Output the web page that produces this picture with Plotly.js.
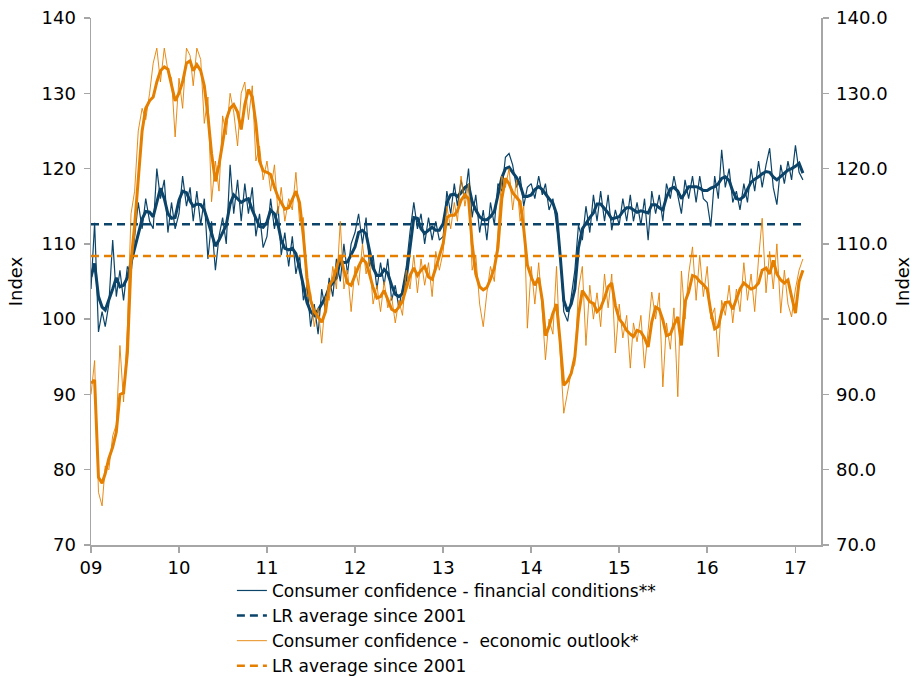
<!DOCTYPE html>
<html>
<head>
<meta charset="utf-8">
<script src="https://cdn.plot.ly/plotly-3.0.1.min.js"></script>
<style>html,body{margin:0;padding:0;background:#fff;}#chart{width:919px;height:677px;}</style>
</head>
<body>
<div id="chart"></div>
<script>
// Semi-monthly observations (1st and 16th of each month), Jan 2009 - Feb 2017
const years = [2009, 2010, 2011, 2012, 2013, 2014, 2015, 2016];
const lastYear = 2017;
const lastYearMonths = ["01-01", "01-16", "02-01"];
const yearTicks = ["2009-01-01","2010-01-01","2011-01-01","2012-01-01","2013-01-01","2014-01-01","2015-01-01","2016-01-01","2017-01-01"];
const yearLabels = ["09","10","11","12","13","14","15","16","17"];

// Consumer confidence - financial conditions (weekly, thin)
const financialWeekly = [
  104, 112.8, 98.3, 101, 99, 102, 110.5, 103, 106.5, 102.5, 107, 106, 111, 115.5, 112, 116, 113, 112, 120, 116, 118.5, 111.5, 115.5, 112,
  114, 119, 115, 117.5, 113, 117, 112.5, 116, 108, 113, 106.5, 111, 113.5, 110, 120.5, 114, 118.5, 113, 118, 114, 117.5, 111, 114, 109.5,
  111, 116, 112, 115, 108.5, 111.5, 107, 111, 106, 108.5, 102.5, 104.5, 99, 102, 98, 104, 101, 105.5, 103, 108, 105, 110, 106, 110,
  111.5, 114, 110, 113.5, 107, 108.5, 104, 107.5, 104.5, 108, 102.5, 104.5, 101.5, 104, 107, 111.5, 115.5, 112, 114, 110, 113.5, 110.5, 113, 110.5,
  111, 117, 114, 118, 115, 118.5, 116, 120, 113.5, 116.5, 111.5, 114.5, 110.5, 115.5, 112.5, 118, 117, 121.5, 122, 120.5, 117.5, 119, 115, 117.5,
  118, 116, 119, 116.5, 118, 114.5, 116, 112.5, 109, 101, 99.7, 103, 106.5, 112.5, 110.5, 115, 111.5, 116.5, 113, 117, 113, 116.5, 111.8, 114.5,
  112.5, 116, 113, 116.5, 113, 115.5, 112.5, 116, 110.5, 117, 114, 116.5, 113, 118, 116, 119, 116.5, 114, 118.5, 116, 119, 115.5, 119, 116,
  115.5, 112.3, 119, 116, 122.5, 117.5, 120, 115.5, 117, 114.5, 118, 115.5, 120, 117, 121, 117.5, 120.5, 122.7, 117.5, 115.2, 120.5, 118, 121, 118.5,
  123.1, 119.5, 118.5
];
// Smoothed (thick)
const financialSmooth = [
  105.6, 107.4, 103, 101.6, 101.2, 102.5, 104, 105.5, 104.3, 104.5, 105.5, 107.5, 109.5, 111.5, 113.3, 114.3, 114.2, 113.6, 115.5, 117.4, 116, 114, 113.4, 113.5,
  115.8, 117, 116.8, 115.7, 115, 115.3, 115.2, 114.5, 113, 111.3, 109.7, 110.5, 111.4, 112.5, 115.3, 116.5, 116, 115.5, 115.8, 116, 114.5, 113.5, 112.3, 112.2,
  112.9, 114.5, 114, 112.5, 110.5, 109.4, 109.2, 109.4, 108.7, 106.8, 104.5, 102.2, 101, 100.5, 101.2, 102, 102.9, 104.2, 104.8, 105.5, 107.8, 107.5, 107.6, 108.5,
  109.6, 111.5, 111.8, 111.3, 109, 106.8, 105.8, 105.8, 106.6, 106.1, 104.5, 103.3, 103, 103.4, 105.6, 109.5, 113.5, 113.4, 112, 111.4, 111.8, 112.2, 111.8, 111.8,
  112.7, 115.5, 116.5, 116.6, 116.3, 116.8, 117.5, 117.8, 115.6, 114.5, 113.6, 113.2, 113.2, 113.6, 114.3, 116.3, 118.8, 120, 120.2, 119.5, 118.8, 117.8, 116.3, 116.3,
  116.5, 117.2, 117.6, 117.2, 116.6, 116, 115.4, 114, 108.5, 102.5, 101, 102, 104, 109.5, 112, 112.8, 113.5, 114.1, 115.3, 115.3, 114.7, 114.1, 113.3, 113.4,
  113.6, 114.3, 114.8, 114.8, 114.5, 114.2, 114.4, 114.3, 114.1, 115.2, 115.2, 114.8, 114.5, 116.2, 117.3, 117.5, 117, 116, 116.8, 117.6, 117.6, 117.6, 117.4, 117.1,
  117.1, 117.4, 117.6, 118, 118.7, 118.9, 118.4, 117, 116, 115.9, 116.3, 117.3, 118.2, 118.6, 118.9, 119.3, 119.6, 119.5, 118.9, 118.5, 119, 119.4, 119.8, 120,
  120.3, 120.7, 119.4
];
// Consumer confidence - economic outlook (weekly, thin)
const outlookWeekly = [
  90, 94.5, 77, 75.2, 80.5, 80, 84.5, 86, 96.5, 89, 99, 114, 117, 125, 128, 126.5, 130, 134, 136, 131.5, 136, 133, 132, 124.2,
  132, 128, 136, 135, 131, 136, 134.5, 126, 129.5, 115.6, 121, 117, 127, 124.5, 130, 127.5, 123, 130, 131.5, 126.5, 131, 121, 123, 118.5,
  121, 117, 120.5, 114, 117.5, 113, 116, 114.5, 119.5, 113, 113.5, 103, 103.5, 99, 101.5, 96.8, 103, 102.5, 107, 104, 113, 104, 106.5, 101,
  107, 104.5, 110, 106, 108, 102, 104.5, 101, 105, 101.5, 103, 99.5, 102.5, 100.5, 106.5, 104, 108.5, 103.5, 108, 104.5, 107.5, 103, 109, 106.5,
  109, 115, 112, 115.5, 113, 119, 115, 118, 106.5, 108.5, 102, 99, 103.5, 107, 105, 112, 119, 117.5, 120, 114.5, 118.5, 113, 115, 98.8,
  107, 102, 107.5, 101, 94.6, 100, 98, 107, 95.5, 87.5, 90.5, 93, 94, 104, 107, 96.5, 104.5, 100, 103.5, 99, 106, 101.5, 106, 95.5,
  102, 97.5, 100.5, 93.5, 99.5, 97, 100.5, 93.5, 98.5, 103.6, 100, 103.5, 91, 99.5, 96, 101.5, 89.7, 106.4, 100, 106, 109.6, 102.5, 108.5, 103,
  107, 100, 101.5, 95, 102.5, 100.5, 104.5, 99.5, 104, 101, 107.5, 102.5, 106, 101, 108, 113.4, 103.5, 109, 104, 110, 100.8, 106.5, 102, 100.3,
  104, 106.5, 108
];
// Smoothed (thick)
const outlookSmooth = [
  91.5, 91.9, 79, 78.2, 79.5, 81.5, 83, 85, 90, 90.2, 95.5, 107.5, 112.5, 118.5, 125, 128, 129, 129.5, 131.5, 133, 133.5, 133.2, 131, 129,
  130, 131.5, 134, 134.3, 133, 133.8, 133, 131, 127, 122, 118.3, 120.5, 123.4, 126.5, 128, 128.5, 127.5, 125.2, 128.5, 130.5, 129.5, 126, 121, 119.7,
  119.5, 119.2, 117.5, 116.2, 115.5, 114.6, 114.8, 115.8, 117, 115.5, 111, 105.5, 102.5, 101, 100.3, 99.6, 101, 104.5, 105.2, 106.7, 108.5, 106.5, 104.8, 104.5,
  105.8, 107, 108, 107.5, 106, 104.2, 102.8, 103, 103.8, 102.5, 101.3, 101, 101.6, 102.4, 104, 105.8, 106.8, 105.8, 106.5, 107, 105.6, 105.3, 106.8, 108.3,
  110.1, 113.5, 113.8, 113.8, 114.4, 115.8, 116.5, 116, 110, 106, 104.3, 103.9, 104.2, 105.3, 106.8, 109.5, 116, 118.7, 118, 116.8, 116.2, 115.6, 112, 107.2,
  105.6, 104.5, 105.5, 102.5, 97.8, 99, 100.8, 102, 97, 91.2, 91.8, 92.8, 95, 100.5, 103.8, 103, 102.3, 102.1, 101, 101.5, 102.8, 104.3, 104.8, 101.8,
  100, 99.4, 98.5, 98, 97.7, 98.5, 98.3, 97.5, 96.3, 99.6, 101.6, 101.3, 99.9, 97.8, 98, 99.2, 100.3, 96.5, 102.3, 103.6, 105.8, 105.6, 105, 104.6,
  104, 101, 98.7, 99, 101, 102.2, 102.3, 101.3, 102.8, 104, 104.8, 104.4, 104, 104.2, 104.8, 106.5, 106.8, 106, 107.8, 106, 105.2, 104.8, 105.2, 103,
  100.8, 105, 106.5
];
// Long-run averages since 2001
const financialLR = 112.6;
const outlookLR = 108.4;

const seriesNames = [
  "Consumer confidence - financial conditions**",
  "LR average since 2001",
  "Consumer confidence - \u00a0economic outlook*",
  "LR average since 2001"
];

// Build the date categories
const dates = [];
years.forEach(y => {
  for (let m = 1; m <= 12; m++) {
    const mm = String(m).padStart(2, "0");
    dates.push(y + "-" + mm + "-01");
    dates.push(y + "-" + mm + "-16");
  }
});
lastYearMonths.forEach(md => dates.push(lastYear + "-" + md));

const navy = "#0b4468";
const orange = "#e47f00";
const fontFam = "DejaVu Sans, Verdana, sans-serif";
const span = [dates[0], dates[dates.length - 1]];

const traces = [
  {x: dates, y: financialWeekly, type: "scatter", mode: "lines", name: seriesNames[0],
   line: {color: navy, width: 1.2}, yaxis: "y"},
  {x: dates, y: financialSmooth, type: "scatter", mode: "lines", showlegend: false,
   line: {color: navy, width: 3}, yaxis: "y"},
  {x: span, y: [financialLR, financialLR], type: "scatter", mode: "lines", name: seriesNames[1],
   line: {color: navy, width: 2.5, dash: "8px,5px"}, yaxis: "y"},
  {x: dates, y: outlookWeekly, type: "scatter", mode: "lines", name: seriesNames[2],
   line: {color: orange, width: 1}, opacity: 0.9, yaxis: "y2"},
  {x: dates, y: outlookSmooth, type: "scatter", mode: "lines", showlegend: false,
   line: {color: orange, width: 3}, yaxis: "y2"},
  {x: span, y: [outlookLR, outlookLR], type: "scatter", mode: "lines", name: seriesNames[3],
   line: {color: orange, width: 2.5, dash: "8px,5px"}, yaxis: "y2"}
];

const axisCommon = {
  showgrid: false, zeroline: false, showline: true, linecolor: "#a6a6a6", linewidth: 1.5,
  ticks: "outside", ticklen: 6, tickcolor: "#a6a6a6", tickwidth: 1.5,
  tickfont: {family: fontFam, size: 18, color: "#000"}
};

const layout = {
  width: 919, height: 677,
  margin: {l: 91, r: 98, t: 18, b: 132, autoexpand: false},
  paper_bgcolor: "#fff", plot_bgcolor: "#fff",
  font: {family: fontFam, size: 18, color: "#000"},
  showlegend: true,
  legend: {x: 0.193, y: -0.053, xanchor: "left", yanchor: "top", orientation: "v",
           font: {family: fontFam, size: 17, color: "#000"}, bgcolor: "rgba(0,0,0,0)",
           tracegroupgap: 0, itemwidth: 30},
  xaxis: Object.assign({}, axisCommon, {
    type: "date", range: ["2009-01-01", "2017-04-17"],
    tickmode: "array", tickvals: yearTicks, ticktext: yearLabels
  }),
  yaxis: Object.assign({}, axisCommon, {
    range: [70, 140], dtick: 10, tickformat: "d", ticklabelstandoff: 4,
    title: {text: "Index", font: {family: fontFam, size: 18, color: "#000"}, standoff: 14}
  }),
  yaxis2: Object.assign({}, axisCommon, {
    overlaying: "y", side: "right", range: [70, 140], dtick: 10, tickformat: ".1f", ticklabelstandoff: 4,
    title: {text: "Index", font: {family: fontFam, size: 18, color: "#000"}, standoff: 10}
  })
};

Plotly.newPlot("chart", traces, layout, {displayModeBar: false, staticPlot: true});
</script>
</body>
</html>
